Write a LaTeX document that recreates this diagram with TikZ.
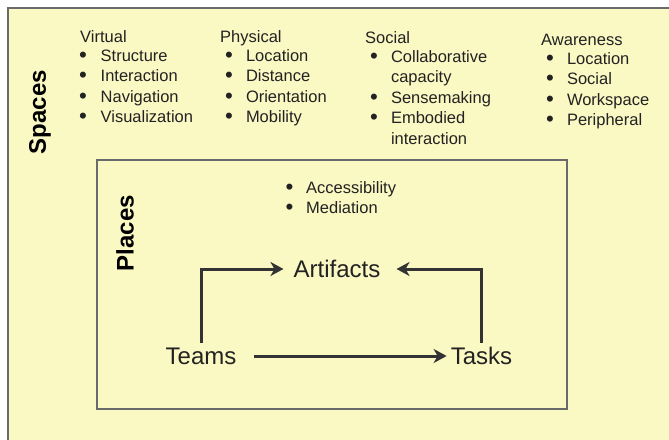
\documentclass[tikz,border=0pt]{standalone}
\usepackage{fontspec}
\usepackage{graphicx}
\setmainfont{Liberation Sans}
\usetikzlibrary{arrows.meta}
\definecolor{padyellow}{HTML}{FAF8C3}
\definecolor{framegray}{HTML}{6A6A6A}
\definecolor{inkgray}{HTML}{333333}
\definecolor{textgray}{HTML}{222222}
\newcommand{\bul}{\raisebox{-0.06em}{\scalebox{1.35}{\textbullet}}}

\begin{document}
\begin{tikzpicture}[x=1pt,y=-1pt,
    smalltext/.style={font=\fontsize{16.5}{20.5}\selectfont, text=textgray, inner sep=0pt},
    headnode/.style={smalltext, anchor=base west},
    listnode/.style={smalltext, anchor=north west, align=left},
    bignode/.style={font=\fontsize{24}{28}\selectfont, text=textgray, inner sep=4pt},
    sidenode/.style={font=\fontsize{24}{28}\selectfont\bfseries, text=black, rotate=90, inner sep=0pt},
    flow/.style={draw=inkgray, line width=3pt, -{Stealth[length=13pt,width=14pt,inset=4pt]}}]

    \useasboundingbox (0,0) rectangle (669,439);
    \draw[framegray, line width=1.5pt, fill=padyellow] (8,8) rectangle (672,442);
    \draw[framegray, line width=1.2pt] (97,160) rectangle (567,409);

    %side titles
    \node[sidenode] (spaces) at (40,112) {Spaces};
    \node[sidenode] (places) at (125,233) {Places};

    %space lists
    \node[headnode] (virtual) at (80,42.5) {Virtual};
    \node[listnode] (virtuallist) at (79,46.6) {\begin{tabular}{@{}p{21.5pt}@{}l@{}}
        \bul & Structure\\ \bul & Interaction\\ \bul & Navigation\\ \bul & Visualization
    \end{tabular}};

    \node[headnode] (physical) at (220,42.5) {Physical};
    \node[listnode] (physicallist) at (224.8,46.6) {\begin{tabular}{@{}p{21pt}@{}l@{}}
        \bul & Location\\ \bul & Distance\\ \bul & Orientation\\ \bul & Mobility
    \end{tabular}};

    \node[headnode] (social) at (365,43) {Social};
    \node[listnode] (sociallist) at (369.8,47.6) {\begin{tabular}{@{}p{21pt}@{}l@{}}
        \bul & Collaborative\\ & capacity\\ \bul & Sensemaking\\ \bul & Embodied\\ & interaction
    \end{tabular}};

    \node[headnode] (awareness) at (541,45) {Awareness};
    \node[listnode] (awarenesslist) at (545.8,49.6) {\begin{tabular}{@{}p{21pt}@{}l@{}}
        \bul & Location\\ \bul & Social\\ \bul & Workspace\\ \bul & Peripheral
    \end{tabular}};

    %place list
    \node[listnode] (placelist) at (285.5,178.6) {\begin{tabular}{@{}p{20.5pt}@{}l@{}}
        \bul & Accessibility\\ \bul & Mediation
    \end{tabular}};

    \node[bignode] (artifacts) at (337,269) {Artifacts};
    \node[bignode] (teams) at (201,356) {Teams};
    \node[bignode] (tasks) at (481.5,356) {Tasks};

    \draw[flow, shorten <=13pt] (teams) -- (tasks);
    \draw[flow, shorten >=6pt] (teams.north) |- (artifacts.west);
    \draw[flow, shorten >=12pt] (tasks.north) |- (artifacts.east);

\end{tikzpicture}
\end{document}
